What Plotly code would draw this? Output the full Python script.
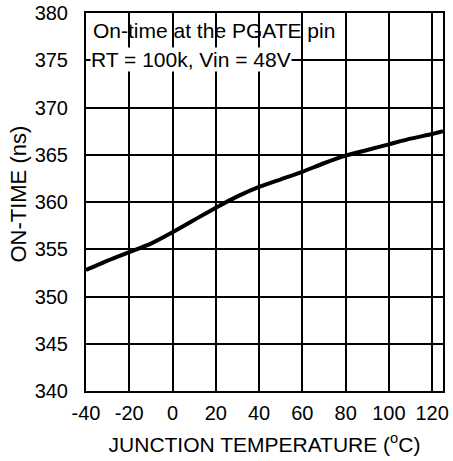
import plotly.graph_objects as go

# junction temperature (C) and on-time (ns)
temp_c = [-40, -30, -20, -10, 0, 10, 20, 30, 40, 50, 60, 70, 80, 90, 100, 110, 120, 125]
on_time_ns = [352.8, 353.8, 354.7, 355.6, 356.8, 358.1, 359.4, 360.6, 361.6, 362.4, 363.2, 364.1, 364.9, 365.5, 366.1, 366.7, 367.2, 367.5]

x_ticks = [-40, -20, 0, 20, 40, 60, 80, 100, 120]
x_labels = ["-40", "-20", "0", "20", "40", "60", "80", "100", "120"]
y_ticks = [340, 345, 350, 355, 360, 365, 370, 375, 380]

font = "Liberation Sans, Arial, sans-serif"

fig = go.Figure()

fig.add_trace(
    go.Scatter(
        x=temp_c,
        y=on_time_ns,
        mode="lines",
        line={"color": "#000000", "width": 4, "shape": "spline", "smoothing": 0.6},
        hoverinfo="skip",
        showlegend=False,
    )
)

# white patch behind the caption (hides grid lines there)
fig.add_shape(
    type="rect", xref="x", yref="y",
    x0=-39.5, x1=41, y0=373.4, y1=379.6,
    fillcolor="#ffffff", line={"width": 0}, layer="below",
)

fig.add_annotation(
    x=-37.6, y=378.1, xref="x", yref="y", xanchor="left",
    text="On-time at the PGATE pin", showarrow=False,
    font={"size": 21, "color": "#000000", "family": font},
)
fig.add_annotation(
    x=-38.2, y=375.1, xref="x", yref="y", xanchor="left",
    text="RT = 100k, Vin = 48V", showarrow=False, bgcolor="#ffffff",
    borderpad=0,
    font={"size": 21, "color": "#000000", "family": font},
)

# y axis title, placed by hand (it sits a bit above the plot centre)
fig.add_annotation(
    x=-0.189, y=0.521, xref="paper", yref="paper",
    xanchor="center", yanchor="middle",
    text="ON-TIME (ns)", textangle=-90, showarrow=False,
    font={"size": 22, "color": "#000000", "family": font},
)

fig.update_layout(
    width=453,
    height=461,
    margin={"l": 86, "r": 10, "t": 13, "b": 70},
    paper_bgcolor="#ffffff",
    plot_bgcolor="#ffffff",
    font={"family": font, "size": 20, "color": "#000000"},
    xaxis={
        "range": [-40, 125],
        "tickvals": x_ticks,
        "ticktext": x_labels,
        "showgrid": True,
        "gridcolor": "#000000",
        "gridwidth": 1.5,
        "zeroline": False,
        "showline": True,
        "linecolor": "#000000",
        "linewidth": 2,
        "mirror": True,
        "ticks": "",
        "automargin": False,
        "ticklabelstandoff": 3,
        "title": {"text": "JUNCTION TEMPERATURE (<sup>o</sup>C)", "standoff": 14, "font": {"size": 21}},
    },
    yaxis={
        "range": [340, 380],
        "tickvals": y_ticks,
        "showgrid": True,
        "gridcolor": "#000000",
        "gridwidth": 1.5,
        "zeroline": False,
        "showline": True,
        "linecolor": "#000000",
        "linewidth": 2,
        "mirror": True,
        "ticks": "",
        "automargin": False,
        "ticklabelstandoff": 12,
    },
)

fig.write_html(
    "out.html",
    config={"displayModeBar": False},
    post_script="document.body.style.margin='0';",
)
